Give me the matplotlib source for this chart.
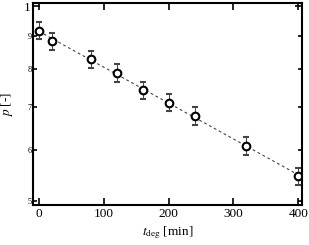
import numpy as np
import matplotlib.pyplot as plt
from matplotlib.ticker import FixedLocator, FixedFormatter

plt.rcParams['font.family'] = ['Liberation Serif', 'DejaVu Serif']
plt.rcParams['mathtext.fontset'] = 'stix'

# data
t_deg = [0, 20, 80, 120, 160, 200, 240, 320, 400]
p_val = [9.17, 8.83, 8.29, 7.89, 7.42, 7.10, 6.77, 6.09, 5.46]
p_err = [0.27, 0.26, 0.25, 0.24, 0.23, 0.22, 0.21, 0.19, 0.17]

# exponential fit (straight on log axis)
coef = np.polyfit(t_deg, np.log(p_val), 1)
t_fit = np.array([0, 400])
p_fit = np.exp(np.polyval(coef, t_fit))

fig = plt.figure(figsize=(3.09, 2.45), dpi=100)
ax = fig.add_axes([0.107, 0.163, 0.869, 0.825])

ax.plot(t_fit, p_fit, color='#444444', ls=(0, (2.5, 2.5)), lw=0.8)
ax.errorbar(t_deg, p_val, yerr=p_err, fmt='o', mfc='white', mec='black',
            ms=5.5, mew=1.5, ecolor='#444444', elinewidth=0.7, capsize=2.5,
            capthick=0.7)

ax.set_yscale('log')
ax.set_xlim(-9, 405)
ax.set_ylim(4.93, 10.12)

ax.set_xticks([0, 100, 200, 300, 400])
ax.yaxis.set_major_locator(FixedLocator([10]))
ax.yaxis.set_major_formatter(FixedFormatter(['1']))
ax.yaxis.set_minor_locator(FixedLocator([5, 6, 7, 8, 9]))
ax.yaxis.set_minor_formatter(FixedFormatter(['5', '6', '7', '8', '9']))

ax.tick_params(which='both', direction='in', top=True, right=True, width=1.2)
ax.tick_params(which='major', length=5, labelsize=9.5, pad=2)
ax.tick_params(axis='y', which='minor', length=3, labelsize=6, pad=1)
for s in ax.spines.values():
    s.set_linewidth(1.5)

ax.set_xlabel(r'$t_{\mathrm{deg}}$ [min]', fontsize=9.5, labelpad=3)
ax.set_ylabel(r'$p$ [-]', fontsize=9.5, labelpad=6)

fig.savefig('out.png', dpi=100)
